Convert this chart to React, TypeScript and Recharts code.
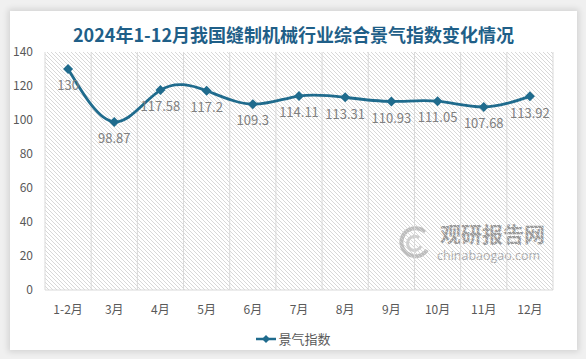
import { CartesianGrid, LabelList, Line, LineChart, XAxis, YAxis } from "recharts";

const months = ["1-2月", "3月", "4月", "5月", "6月", "7月", "8月", "9月", "10月", "11月", "12月"];
const indexValues = [130, 98.87, 117.58, 117.2, 109.3, 114.11, 113.31, 110.93, 111.05, 107.68, 113.92];
const yTicks = [0, 20, 40, 60, 80, 100, 120, 140];

const data = months.map((m, i) => ({ month: m, value: indexValues[i] }));

const LINE = "#1f6b8d";
const FONT = "'Noto Sans CJK SC', 'Noto Sans', sans-serif";

const Diamond = (props: any) => {
  const { cx, cy } = props;
  if (cx == null || cy == null) return null;
  return (
    <polygon
      points={`${cx},${cy - 5} ${cx + 5},${cy} ${cx},${cy + 5} ${cx - 5},${cy}`}
      fill={LINE}
    />
  );
};

const App = () => {
  return (
    <div
      style={{
        position: "absolute",
        left: 0,
        top: 0,
        width: 586,
        height: 359,
        background: "#f0f0f0",
        fontFamily: FONT,
      }}
    >
      <div
        style={{
          position: "absolute",
          left: 10,
          top: 11,
          width: 567,
          height: 339,
          background: "#fff",
          boxShadow: "0 0 6px 2px rgba(0,0,0,0.12)",
        }}
      >
        <div
          style={{
            position: "absolute",
            top: 10,
            left: 0,
            width: 567,
            textAlign: "center",
            fontSize: 18,
            fontWeight: 700,
            color: "#1f5f88",
          }}
        >
          2024年1-12月我国缝制机械行业综合景气指数变化情况
        </div>

        {/* watermark */}
        <svg
          width={40}
          height={36}
          style={{ position: "absolute", left: 385, top: 213 }}
        >
          <path d="M30,8 A14,14 0 1 0 32,26" fill="none" stroke="#bdbdbd" strokeWidth={4} />
          <path d="M24,14 A7,7 0 1 0 26,22" fill="none" stroke="#cfcfcf" strokeWidth={3} />
        </svg>
        <div
          style={{
            position: "absolute",
            left: 430,
            top: 210,
            fontSize: 21,
            fontWeight: 700,
            color: "#9a9a9a",
            lineHeight: "24px",
          }}
        >
          观研报告网
        </div>
        <div
          style={{
            position: "absolute",
            left: 427,
            top: 236,
            fontSize: 12.5,
            color: "#a5a5a5",
            fontFamily: "'Open Sans', sans-serif",
          }}
        >
          chinabaogao.com
        </div>

        <LineChart
          width={567}
          height={339}
          data={data}
          margin={{ top: 41, right: 24, left: 0, bottom: 30 }}
          style={{ position: "absolute", left: 0, top: 0 }}
        >
          <defs>
            <pattern id="hatch" patternUnits="userSpaceOnUse" width={4} height={4}>
              <path d="M-1,-1 L5,5 M-1,3 L1,5 M3,-1 L5,1" stroke="#d4d4d4" strokeWidth={0.9} />
            </pattern>
          </defs>
          <CartesianGrid
            horizontal={false}
            fill="url(#hatch)"
            stroke="#d9d9d9"
            verticalCoordinatesGenerator={({ offset }: any) =>
              months.map((_, i) => offset.left + (i * offset.width) / months.length).concat(offset.left + offset.width)
            }
          />
          <XAxis
            dataKey="month"
            scale="band"
            tickLine={false}
            axisLine={{ stroke: "#d9d9d9" }}
            interval={0}
            height={30}
            tickMargin={9}
            tick={{ fill: "#595959", fontSize: 12, fontFamily: FONT }}
          />
          <YAxis
            width={35}
            domain={[0, 140]}
            ticks={yTicks}
            axisLine={false}
            tickLine={false}
            tickMargin={6}
            tick={{ fill: "#595959", fontSize: 12, fontFamily: FONT }}
          />
          <Line
            type="natural"
            dataKey="value"
            stroke={LINE}
            strokeWidth={2.8}
            dot={<Diamond />}
            activeDot={false}
            isAnimationActive={false}
          >
            <LabelList
              dataKey="value"
              position="bottom"
              offset={12}
              style={{ fill: "#808080", fontSize: 13, fontFamily: FONT }}
            />
          </Line>
        </LineChart>

        <div
          style={{
            position: "absolute",
            top: 318,
            left: 0,
            width: 567,
            display: "flex",
            justifyContent: "center",
            alignItems: "center",
            fontSize: 13,
            color: "#595959",
          }}
        >
          <svg width={20} height={10} style={{ marginRight: 2 }}>
            <line x1={0} y1={5} x2={20} y2={5} stroke={LINE} strokeWidth={2.5} />
            <polygon points="10,1 14,5 10,9 6,5" fill={LINE} />
          </svg>
          景气指数
        </div>
      </div>
    </div>
  );
};

export default App;
